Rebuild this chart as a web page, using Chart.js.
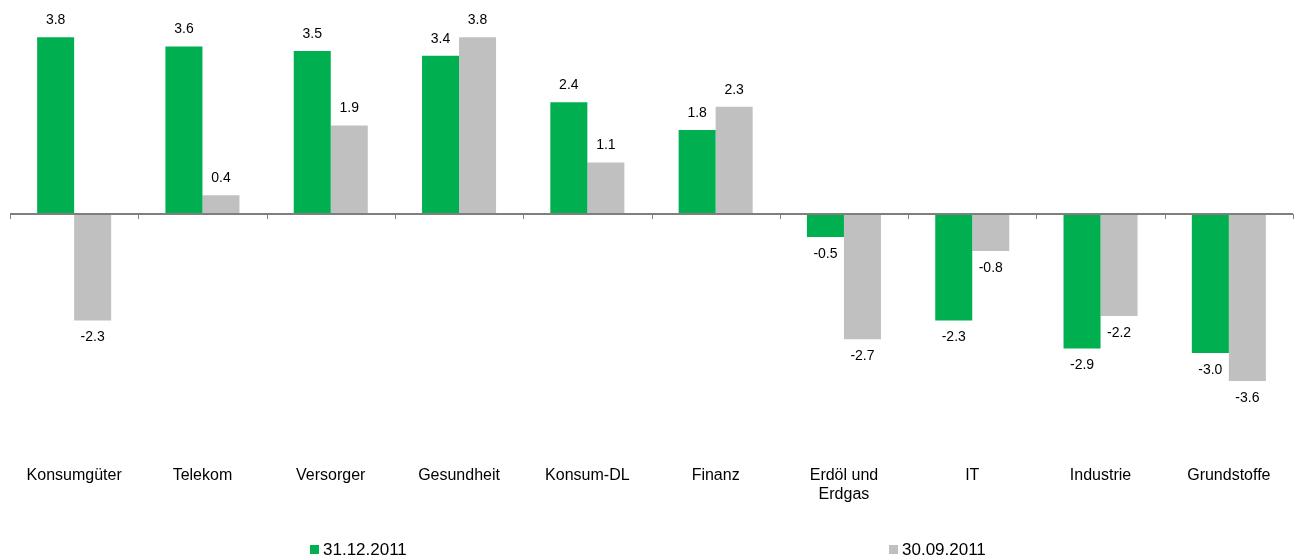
<!DOCTYPE html>
<html>
<head>
<meta charset="utf-8">
<script src="https://cdn.jsdelivr.net/npm/chart.js@4"></script>
<style>
  html, body { margin: 0; padding: 0; background: #fff; }
  #wrap { width: 1296px; height: 558px; position: relative; }
</style>
</head>
<body>
<div id="wrap"><canvas id="myChart"></canvas></div>
<script>
// categories and series
const categories = ['Konsumgüter', 'Telekom', 'Versorger', 'Gesundheit', 'Konsum-DL', 'Finanz',
    ['Erdöl und', 'Erdgas'], 'IT', 'Industrie', 'Grundstoffe'];
const seriesNames = ['31.12.2011', '30.09.2011'];
const dec2011 = [3.8, 3.6, 3.5, 3.4, 2.4, 1.8, -0.5, -2.3, -2.9, -3.0];
const sep2011 = [-2.3, 0.4, 1.9, 3.8, 1.1, 2.3, -2.7, -0.8, -2.2, -3.6];
const colors = ['#00B050', '#C0C0C0'];

const FONT = 'Liberation Sans, Arial, sans-serif';

// zero line with small ticks between categories
const zeroLine = {
    id: 'zeroLine',
    afterDatasetsDraw(chart) {
        const { ctx, chartArea } = chart;
        const y = chart.scales.y;
        const y0 = Math.round(y.getPixelForValue(0));
        ctx.save();
        ctx.strokeStyle = '#7f7f7f';
        ctx.lineWidth = 2;
        ctx.beginPath();
        ctx.moveTo(chartArea.left, y0);
        ctx.lineTo(chartArea.right, y0);
        ctx.stroke();
        ctx.lineWidth = 1;
        const w = (chartArea.right - chartArea.left) / categories.length;
        for (let i = 0; i <= categories.length; i++) {
            const xx = Math.round(chartArea.left + i * w) + 0.5;
            ctx.beginPath();
            ctx.moveTo(xx, y0);
            ctx.lineTo(xx, y0 + 5);
            ctx.stroke();
        }
        ctx.restore();
    }
};

// value labels above / below bars
const valueLabels = {
    id: 'valueLabels',
    afterDatasetsDraw(chart) {
        const ctx = chart.ctx;
        ctx.save();
        ctx.font = '14px ' + FONT;
        ctx.fillStyle = '#000';
        ctx.textAlign = 'center';
        ctx.textBaseline = 'middle';
        chart.data.datasets.forEach((ds, di) => {
            chart.getDatasetMeta(di).data.forEach((bar, i) => {
                const v = ds.data[i];
                const yy = v >= 0 ? bar.y - 17 : bar.y + 17;
                ctx.fillText(v.toFixed(1), bar.x, yy);
            });
        });
        ctx.restore();
    }
};

// legend spread out at the bottom
const spreadLegend = {
    id: 'spreadLegend',
    afterDraw(chart) {
        const ctx = chart.ctx;
        const xs = [310, 889];
        const yc = 549;
        ctx.save();
        ctx.font = '17px ' + FONT;
        ctx.textBaseline = 'middle';
        ctx.textAlign = 'left';
        chart.data.datasets.forEach((ds, di) => {
            ctx.fillStyle = ds.backgroundColor;
            ctx.fillRect(xs[di], yc - 4, 9, 9);
            ctx.fillStyle = '#000';
            ctx.fillText(ds.label, xs[di] + 13, yc + 1);
        });
        ctx.restore();
    }
};

new Chart(document.getElementById('myChart'), {
    type: 'bar',
    data: {
        labels: categories,
        datasets: [
            { label: seriesNames[0], data: dec2011, backgroundColor: colors[0] },
            { label: seriesNames[1], data: sep2011, backgroundColor: colors[1] },
        ],
    },
    options: {
        responsive: true,
        maintainAspectRatio: false,
        animation: false,
        layout: { padding: { left: 10, right: 3, top: 0, bottom: 51 } },
        datasets: { bar: { categoryPercentage: 0.577, barPercentage: 1 } },
        scales: {
            x: {
                grid: { display: false },
                border: { display: false },
                ticks: {
                    color: '#000',
                    font: { family: FONT, size: 16 },
                    maxRotation: 0,
                    autoSkip: false,
                    padding: 3,
                },
            },
            y: {
                display: false,
                min: -5.185,
                max: 4.6,
            },
        },
        plugins: {
            legend: { display: false },
            tooltip: { enabled: false },
        },
    },
    plugins: [zeroLine, valueLabels, spreadLegend],
});
</script>
</body>
</html>
